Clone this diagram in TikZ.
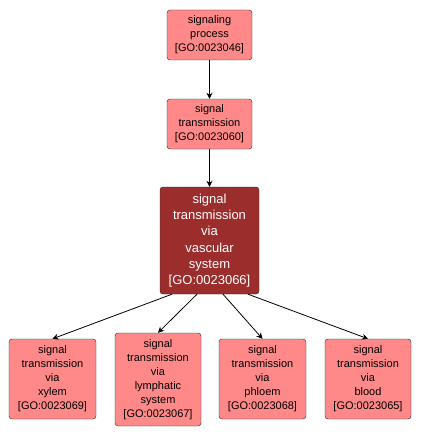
\documentclass[tikz,border=0pt]{standalone}
\usepackage{fontspec}
\setmainfont{Liberation Sans}
\usetikzlibrary{arrows.meta}
\definecolor{golight}{RGB}{255,137,137}
\definecolor{godark}{RGB}{155,45,45}
\tikzset{
  term/.style={draw=black!85, fill=golight, rounded corners=3pt, align=center,
    font=\fontsize{11}{14}\selectfont, inner sep=0pt},
  hot/.style={term, fill=godark, text=white, font=\fontsize{13}{16.3}\selectfont},
  link/.style={-{Stealth[length=6pt,width=6pt]}, black, thick}
}
\begin{document}
\begin{tikzpicture}[x=1pt,y=-1pt]
\useasboundingbox (0,0) rectangle (420,436);

\node[term, minimum width=85, minimum height=50] (sp) at (209.5,35) {signaling\\process\\{[GO:0023046]}};
\node[term, minimum width=85, minimum height=50] (st) at (209.5,124) {signal\\transmission\\{[GO:0023060]}};
\node[hot, minimum width=99, minimum height=107] (sv) at (209.5,240.5) {signal\\transmission\\via\\vascular\\system\\{[GO:0023066]}};

\node[term, minimum width=87, minimum height=80] (xy) at (52.5,379) {signal\\transmission\\via\\xylem\\{[GO:0023069]}};
\node[term, minimum width=86, minimum height=93] (ly) at (158,379.5) {signal\\transmission\\via\\lymphatic\\system\\{[GO:0023067]}};
\node[term, minimum width=87, minimum height=80] (ph) at (262.5,379) {signal\\transmission\\via\\phloem\\{[GO:0023068]}};
\node[term, minimum width=86, minimum height=80] (bl) at (368,379) {signal\\transmission\\via\\blood\\{[GO:0023065]}};

\draw[link] (sp) -- (st);
\draw[link] (st) -- (sv);

\draw[link] ([xshift=-37.5]sv.south) -- (xy.north);
\draw[link] ([xshift=-12.5]sv.south) -- (ly.north);
\draw[link] ([xshift=13.5]sv.south) -- (ph.north);
\draw[link] ([xshift=38.5]sv.south) -- (bl.north);

\end{tikzpicture}
\end{document}
